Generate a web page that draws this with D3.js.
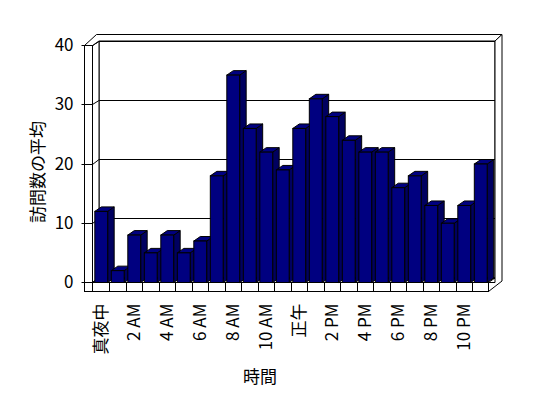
<!DOCTYPE html>
<html lang="ja">
<head>
<meta charset="UTF-8" />
<title>時間別 訪問数の平均</title>
<style>
  body { margin: 0; background: #fff; }
  svg { display: block; font-family: 'Noto Sans CJK JP', sans-serif; }
  .frame { fill: #fff; stroke: #000; stroke-width: 1; stroke-linejoin: miter; }
  .grid { stroke: #000; fill: none; }
  .bar-front { fill: #000080; stroke: #000; }
  .bar-top { fill: #000080; stroke: #000; }
  .bar-side { fill: #000060; stroke: #000; }
</style>
</head>
<body>
<script src="https://cdn.jsdelivr.net/npm/d3@7"></script>
<script>
  // data
  const hours = [0, 1, 2, 3, 4, 5, 6, 7, 8, 9, 10, 11, 12, 13, 14, 15, 16, 17, 18, 19, 20, 21, 22, 23];
  const visits = [12, 2, 8, 5, 8, 5, 7, 18, 35, 26, 22, 19, 26, 31, 28, 24, 22, 22, 16, 18, 13, 10, 13, 20];
  const tickHours = [0, 2, 4, 6, 8, 10, 12, 14, 16, 18, 20, 22];
  const tickLabels = ['真夜中', '2 AM', '4 AM', '6 AM', '8 AM', '10 AM', '正午', '2 PM', '4 PM', '6 PM', '8 PM', '10 PM'];
  const yTicks = [0, 10, 20, 30, 40];

  const width = 548;
  const height = 398;
  const left = 84.5;          // outer edge of the side wall
  const x0 = 92.5, x1 = 488.5; // front edge of the floor
  const y0 = 282.5, yTop = 45.5;
  const floorH = 9;
  const dep = { x: 6.5, y: -4.5 };  // depth of the plot box
  const thick = { x: 7, y: -6.5 };  // back wall thickness

  const svg = d3.select('body').append('svg')
    .attr('width', width)
    .attr('height', height);

  const x = d3.scaleBand().domain(hours).range([x0, x1]);
  const y = d3.scaleLinear().domain([0, 40]).range([y0, yTop]);
  // snap a y position to the pixel grid so 1px lines stay sharp
  const crisp = (v) => Math.round(v - 0.5) + 0.5;

  const line = d3.line();
  const poly = (pts) => line(pts) + 'Z';

  const yOut = yTop + dep.y + thick.y;
  const xR = x1 + dep.x + thick.x;

  // walls and floor
  const frame = svg.append('g');
  // back wall
  frame.append('rect').attr('class', 'frame')
    .attr('x', x0 + dep.x).attr('y', yTop + dep.y)
    .attr('width', x1 - x0).attr('height', y0 - yTop);
  // side wall inner face
  frame.append('path').attr('class', 'frame')
    .attr('d', poly([[x0, yTop], [x0 + dep.x, yTop + dep.y], [x0 + dep.x, y0 + dep.y], [x0, y0]]));
  // floor top
  frame.append('path').attr('class', 'frame')
    .attr('d', poly([[x0, y0], [x0 + dep.x, y0 + dep.y], [x1 + dep.x, y0 + dep.y], [x1, y0]]));

  // gridlines
  yTicks.forEach((v) => {
    const yf = crisp(y(v)), yb = crisp(y(v) + dep.y);
    frame.append('path').attr('class', 'grid')
      .attr('d', line([[x0, yf], [x0 + dep.x, yb], [x1 + dep.x, yb]]));
  });

  // top of the walls
  frame.append('path').attr('class', 'frame')
    .attr('d', poly([[left, yTop], [left + 12, yOut], [xR, yOut], [x1 + dep.x, yTop + dep.y],
      [x0 + dep.x, yTop + dep.y], [x0, yTop]]));
  // right edge of the back wall and floor
  frame.append('path').attr('class', 'frame')
    .attr('d', poly([[x1 + dep.x, yTop + dep.y], [xR, yOut], [xR, y0 - 1.5], [x1, y0 + floorH],
      [x1, y0], [x1 + dep.x, y0]]));
  // side wall front face
  frame.append('rect').attr('class', 'frame')
    .attr('x', left).attr('y', yTop)
    .attr('width', x0 - left).attr('height', y0 + floorH - yTop);
  yTicks.forEach((v) => {
    frame.append('line').attr('class', 'grid')
      .attr('x1', left).attr('x2', x0).attr('y1', crisp(y(v))).attr('y2', crisp(y(v)));
  });
  // floor front face with category dividers
  frame.append('rect').attr('class', 'frame')
    .attr('x', x0).attr('y', y0)
    .attr('width', x1 - x0).attr('height', floorH);
  frame.selectAll('.divider')
    .data(hours.slice(1))
    .enter()
    .append('line')
    .attr('class', 'grid divider')
    .attr('x1', (d) => Math.round(x(d)) + 0.5)
    .attr('x2', (d) => Math.round(x(d)) + 0.5)
    .attr('y1', y0)
    .attr('y2', y0 + floorH);

  // bars
  const bw = x.bandwidth() * 0.78;
  const off = x.bandwidth() * 0.14;
  const bars = svg.append('g')
    .selectAll('g')
    .data(hours)
    .enter()
    .append('g');

  bars.append('path').attr('class', 'bar-side')
    .attr('d', (d, i) => {
      const xf = x(d) + off + bw, yv = y(visits[i]);
      return poly([[xf, yv], [xf + dep.x, yv + dep.y], [xf + dep.x, y0 + dep.y], [xf, y0]]);
    });
  bars.append('path').attr('class', 'bar-top')
    .attr('d', (d, i) => {
      const xf = x(d) + off, yv = y(visits[i]);
      return poly([[xf, yv], [xf + dep.x, yv + dep.y], [xf + bw + dep.x, yv + dep.y], [xf + bw, yv]]);
    });
  bars.append('rect').attr('class', 'bar-front')
    .attr('x', (d) => x(d) + off)
    .attr('y', (d, i) => y(visits[i]))
    .attr('width', bw)
    .attr('height', (d, i) => y0 - y(visits[i]));

  // y axis
  const yAxis = svg.append('g')
    .attr('transform', `translate(${left},0)`)
    .call(d3.axisLeft(y).tickValues(yTicks).tickSize(3).tickPadding(8));
  yAxis.select('.domain').remove();
  yAxis.selectAll('.tick').attr('transform', (d) => `translate(0,${crisp(y(d))})`);
  yAxis.selectAll('line').attr('y1', 0).attr('y2', 0);
  yAxis.selectAll('text')
    .attr('font-family', "'Noto Sans CJK JP', sans-serif")
    .attr('font-size', 17)
    .attr('fill', '#000');

  // x axis
  const xAxis = svg.append('g')
    .attr('transform', `translate(0,${y0 + floorH})`)
    .call(d3.axisBottom(x).tickValues(tickHours)
      .tickFormat((d) => tickLabels[tickHours.indexOf(d)]).tickSize(0));
  xAxis.select('.domain').remove();
  xAxis.selectAll('text')
    .attr('font-family', "'Noto Sans CJK JP', sans-serif")
    .attr('font-size', 17)
    .attr('fill', '#000')
    .attr('text-anchor', 'end')
    .attr('transform', 'rotate(-90)')
    .attr('x', -12)
    .attr('y', 0)
    .attr('dy', '0.35em');

  // titles
  svg.append('text')
    .text('訪問数の平均')
    .attr('font-size', 17)
    .attr('text-anchor', 'middle')
    .attr('dominant-baseline', 'central')
    .attr('transform', 'translate(36,172) rotate(-90)');

  svg.append('text')
    .text('時間')
    .attr('font-size', 17)
    .attr('text-anchor', 'middle')
    .attr('dominant-baseline', 'central')
    .attr('x', 260)
    .attr('y', 375);
</script>
</body>
</html>
